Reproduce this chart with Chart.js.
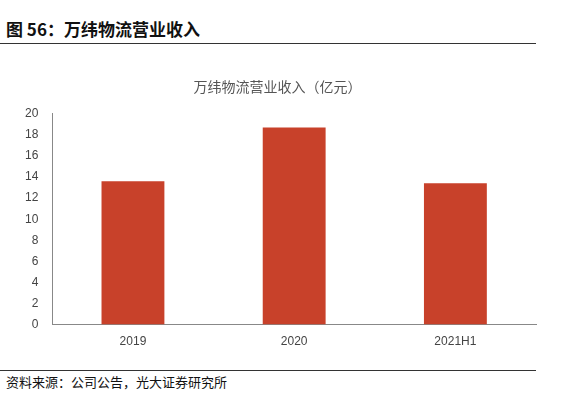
<!DOCTYPE html>
<html>
<head>
<meta charset="utf-8">
<script src="https://cdn.jsdelivr.net/npm/chart.js@4"></script>
<style>
  body { margin: 0; width: 568px; height: 400px; background: #fff; position: relative; font-family: "Noto Sans CJK SC", sans-serif; overflow: hidden; }
  #head { position: absolute; left: 6px; top: 16px; font-size: 17px; font-weight: bold; color: #111; }
  #headLine { position: absolute; left: 0; top: 43px; width: 536px; border-top: 1.5px solid #333; }
  #footLine { position: absolute; left: 0; top: 370px; width: 536px; border-top: 1px solid #333; }
  #foot { position: absolute; left: 6px; top: 372px; font-size: 13px; color: #111; }
  #wrap { position: absolute; left: 0; top: 50px; width: 568px; height: 301px; }
</style>
</head>
<body>
<div id="head">图 56：万纬物流营业收入</div>
<div id="headLine"></div>
<div id="wrap"><canvas id="revenueChart"></canvas></div>
<div id="footLine"></div>
<div id="foot">资料来源：公司公告，光大证券研究所</div>
<script>
const years = ['2019', '2020', '2021H1'];
const revenues = [13.6, 18.7, 13.4];
const yTicks = [0, 2, 4, 6, 8, 10, 12, 14, 16, 18, 20];

const ctx = document.getElementById('revenueChart').getContext('2d');
new Chart(ctx, {
    type: 'bar',
    data: {
        labels: years,
        datasets: [{
            label: '营业收入',
            data: revenues,
            backgroundColor: '#C8412A',
            barPercentage: 0.39,
            categoryPercentage: 1
        }]
    },
    options: {
        responsive: true,
        maintainAspectRatio: false,
        animation: false,
        layout: { padding: { left: 19, right: 32, top: 20, bottom: 0 } },
        plugins: {
            legend: { display: false },
            tooltip: { enabled: false },
            title: {
                display: true,
                text: '万纬物流营业收入（亿元）',
                color: '#555',
                font: { size: 14, family: 'Noto Sans CJK SC', weight: 'normal' },
                padding: { top: 8, bottom: 19 }
            }
        },
        scales: {
            x: {
                grid: { display: false },
                border: { color: '#888' },
                ticks: { color: '#444', font: { size: 12, family: 'Liberation Sans' }, padding: 2 }
            },
            y: {
                min: 0,
                max: 20,
                afterBuildTicks: axis => { axis.ticks = yTicks.map(v => ({ value: v })); },
                grid: { display: false },
                border: { color: '#888' },
                ticks: { color: '#444', font: { size: 12, family: 'Liberation Sans' }, padding: 6 }
            }
        }
    }
});
</script>
</body>
</html>
